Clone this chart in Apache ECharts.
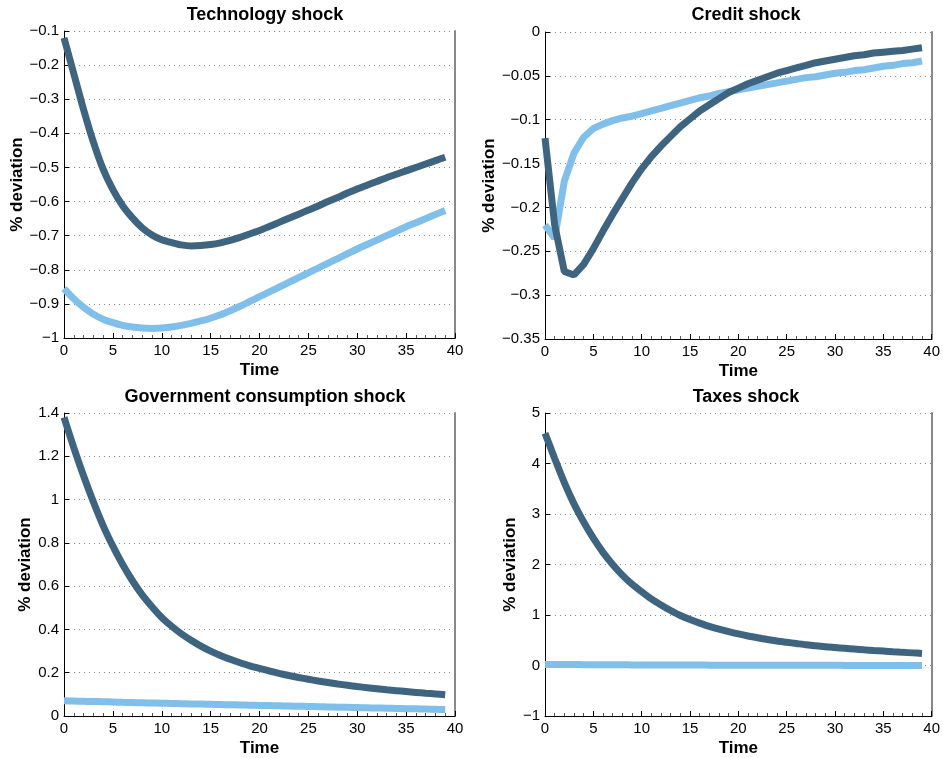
<!DOCTYPE html>
<html>
<head>
<meta charset="utf-8">
<script src="https://cdn.jsdelivr.net/npm/echarts@6/dist/echarts.min.js"></script>
<style>
  html, body { margin: 0; padding: 0; background: #fff; }
  #main { width: 943px; height: 758px; }
</style>
</head>
<body>
<div id="main"></div>
<script>
// periods 0..39
var periods = [];
for (var p = 0; p < 40; p++) periods.push(p);

var titles = ['Technology shock', 'Credit shock', 'Government consumption shock', 'Taxes shock'];

// technology shock
var techDark = [-0.12, -0.225, -0.33, -0.425, -0.505, -0.565, -0.612, -0.648, -0.677, -0.698,
  -0.712, -0.72, -0.727, -0.73, -0.729, -0.726, -0.721, -0.714, -0.705, -0.695,
  -0.685, -0.673, -0.661, -0.649, -0.637, -0.625, -0.613, -0.600, -0.588, -0.575,
  -0.563, -0.552, -0.541, -0.530, -0.520, -0.510, -0.500, -0.490, -0.480, -0.470];
var techLight = [-0.855, -0.885, -0.91, -0.93, -0.945, -0.955, -0.963, -0.968, -0.971, -0.972,
  -0.971, -0.968, -0.963, -0.957, -0.95, -0.942, -0.932, -0.92, -0.907, -0.893,
  -0.879, -0.865, -0.851, -0.837, -0.823, -0.809, -0.795, -0.781, -0.767, -0.753,
  -0.739, -0.726, -0.713, -0.700, -0.687, -0.674, -0.662, -0.650, -0.638, -0.626];

// credit shock
var creditDark = [-0.121, -0.22, -0.273, -0.277, -0.265, -0.247, -0.227, -0.208, -0.19, -0.172,
  -0.156, -0.142, -0.13, -0.119, -0.108, -0.099, -0.09, -0.083, -0.076, -0.069,
  -0.064, -0.059, -0.055, -0.051, -0.047, -0.044, -0.041, -0.038, -0.035, -0.033,
  -0.031, -0.029, -0.027, -0.026, -0.024, -0.023, -0.022, -0.021, -0.0195, -0.018];
var creditLight = [-0.22, -0.235, -0.17, -0.138, -0.12, -0.11, -0.105, -0.101, -0.098, -0.096,
  -0.093, -0.09, -0.087, -0.084, -0.081, -0.078, -0.075, -0.073, -0.070, -0.068,
  -0.066, -0.064, -0.062, -0.060, -0.058, -0.056, -0.054, -0.052, -0.051, -0.049,
  -0.047, -0.046, -0.044, -0.043, -0.041, -0.039, -0.038, -0.036, -0.035, -0.033];

// government consumption shock
var govDark = [1.38, 1.24, 1.11, 0.99, 0.88, 0.785, 0.70, 0.625, 0.56, 0.505,
  0.455, 0.415, 0.38, 0.35, 0.323, 0.30, 0.28, 0.262, 0.246, 0.232,
  0.22, 0.208, 0.197, 0.187, 0.178, 0.17, 0.162, 0.155, 0.148, 0.142,
  0.136, 0.131, 0.126, 0.121, 0.117, 0.113, 0.109, 0.105, 0.102, 0.098];
var govLight = [0.070, 0.069, 0.068, 0.067, 0.066, 0.065, 0.063, 0.062, 0.061, 0.060,
  0.059, 0.058, 0.057, 0.056, 0.055, 0.054, 0.053, 0.052, 0.051, 0.050,
  0.049, 0.048, 0.047, 0.046, 0.045, 0.044, 0.043, 0.042, 0.041, 0.040,
  0.039, 0.038, 0.037, 0.036, 0.035, 0.034, 0.033, 0.032, 0.031, 0.030];

// taxes shock
var taxDark = [4.6, 4.1, 3.62, 3.2, 2.84, 2.52, 2.24, 2.0, 1.79, 1.61,
  1.46, 1.32, 1.2, 1.09, 0.99, 0.91, 0.84, 0.775, 0.72, 0.67,
  0.625, 0.585, 0.55, 0.515, 0.485, 0.46, 0.435, 0.41, 0.39, 0.37,
  0.355, 0.34, 0.325, 0.31, 0.297, 0.285, 0.272, 0.26, 0.25, 0.24];
var taxLight = [0.02, 0.02, 0.019, 0.018, 0.017, 0.016, 0.015, 0.014, 0.013, 0.012,
  0.011, 0.010, 0.010, 0.009, 0.009, 0.008, 0.008, 0.007, 0.007, 0.006,
  0.006, 0.005, 0.005, 0.005, 0.004, 0.004, 0.004, 0.003, 0.003, 0.003,
  0.003, 0.002, 0.002, 0.002, 0.002, 0.001, 0.001, 0.001, 0.001, 0.0];

var yMin = [-1, -0.35, 0, -1];
var yMax = [-0.1, 0, 1.4, 5];
var yStep = [0.1, 0.05, 0.2, 1];

var darkSeries = [techDark, creditDark, govDark, taxDark];
var lightSeries = [techLight, creditLight, govLight, taxLight];
var smoothIt = [0.25, false, 0.25, 0.25];

var dark = '#3e6480';
var light = '#80bfe9';
var font = '"Liberation Sans", Arial, sans-serif';

var myChart = echarts.init(document.getElementById('main'));

var grids = [
  { left: 64, top: 31, width: 391, height: 307 },
  { left: 545, top: 32, width: 391, height: 307 },
  { left: 64, top: 413, width: 391, height: 306 },
  { left: 545, top: 413, width: 391, height: 307 }
];
var nameGaps = [38, 46, 30, 26];
var titleX = [260, 741, 260, 741];
var titleY = [1, 1, 383, 383];

var xAxes = [], yAxes = [], series = [], title = [];
function pairs(arr) {
  return arr.map(function (v, i) { return [periods[i], v]; });
}
function minusFmt(v) {
  var s = String(+v.toFixed(2));
  return s.replace('-', '\u2212');
}

for (var i = 0; i < 4; i++) {
  title.push({
    text: titles[i], left: titleX[i], top: titleY[i], textAlign: 'center',
    textStyle: { fontFamily: font, fontSize: 18, fontWeight: 'bold', color: '#000' }
  });
  xAxes.push({
    gridIndex: i, type: 'value', min: 0, max: 40, interval: 5,
    name: 'Time', nameLocation: 'middle', nameGap: 24,
    nameTextStyle: { fontFamily: font, fontSize: 17, fontWeight: 'bold', color: '#000' },
    axisLine: { onZero: false, lineStyle: { color: '#000', width: 1 } },
    axisTick: { inside: true, length: 5, lineStyle: { color: '#000' } },
    minorTick: { show: true, splitNumber: 5, length: 3, lineStyle: { color: '#555' } },
    axisLabel: { fontFamily: font, fontSize: 15, color: '#000', margin: 5 },
    splitLine: { show: false }
  });
  yAxes.push({
    gridIndex: i, type: 'value', min: yMin[i], max: yMax[i], interval: yStep[i],
    name: '% deviation', nameLocation: 'middle', nameGap: nameGaps[i],
    nameTextStyle: { fontFamily: font, fontSize: 17, fontWeight: 'bold', color: '#000' },
    axisLine: { show: true, onZero: false, lineStyle: { color: '#000', width: 1 } },
    axisTick: { show: true, inside: true, length: 5, lineStyle: { color: '#000' } },
    axisLabel: { fontFamily: font, fontSize: 15, color: '#000', margin: 5, formatter: minusFmt },
    splitLine: { show: true, lineStyle: { color: '#888', type: [1, 4], width: 1 } }
  });
  // right frame line
  yAxes.push({
    gridIndex: i, type: 'value', position: 'right', min: yMin[i], max: yMax[i],
    axisLine: { show: true, onZero: false, lineStyle: { color: '#888', width: 2 } },
    axisTick: { show: false }, axisLabel: { show: false }, splitLine: { show: false }
  });
  series.push({
    type: 'line', xAxisIndex: i, yAxisIndex: i * 2, data: pairs(lightSeries[i]),
    showSymbol: false, smooth: smoothIt[i], lineStyle: { color: light, width: 7 }, silent: true
  });
  series.push({
    type: 'line', xAxisIndex: i, yAxisIndex: i * 2, data: pairs(darkSeries[i]),
    showSymbol: false, smooth: smoothIt[i], lineStyle: { color: dark, width: 7 }, silent: true
  });
}

var option = {
  animation: false,
  backgroundColor: '#fff',
  title: title,
  grid: grids,
  xAxis: xAxes,
  yAxis: yAxes,
  series: series
};
myChart.setOption(option, true);
</script>
</body>
</html>
